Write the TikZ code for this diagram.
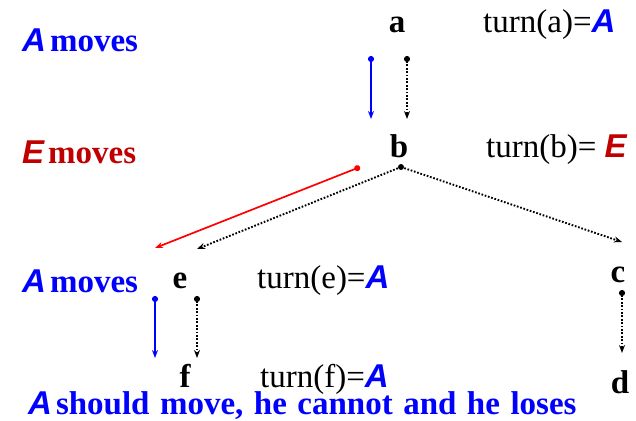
\documentclass[tikz,border=0pt]{standalone}
\usepackage{fontspec}
\setmainfont{Liberation Serif}
\setsansfont{Liberation Sans}
\usetikzlibrary{arrows.meta,calc}
\definecolor{pblue}{HTML}{0000FF}
\definecolor{pdred}{HTML}{C00000}
\definecolor{pred}{HTML}{FF0000}
\newcommand\plA{{\sffamily\bfseries\itshape\color{pblue}A}}
\newcommand\plE{{\sffamily\bfseries\itshape\color{pdred}E}}
\tikzset{
  txt/.style={font=\fontsize{33}{36}\selectfont, inner sep=0pt, anchor=base west},
  posn/.style={font=\fontsize{33}{36}\selectfont\bfseries, inner sep=0pt, anchor=base},
  who/.style={font=\fontsize{33}{36}\selectfont\bfseries, text=#1, inner sep=0pt, anchor=base west},
  move/.style={{Circle[length=6pt]}-{Stealth[length=8pt,width=6pt]}, line width=1.7pt, draw=#1},
  dline/.style={-{Stealth[length=8pt,width=6pt]}, line width=1.9pt,
                dash pattern=on 1.7pt off 1.7pt, draw=black},
  dmove/.style={dline, {Circle[length=6pt]}-{Stealth[length=8pt,width=6pt]}},
}
\begin{document}
\begin{tikzpicture}[x=1pt, y=-1pt]
  \useasboundingbox (0,0) rectangle (636,420);

  % --- positions
  \node[posn] (a) at (397,33) {a};
  \node[posn] (b) at (399,157) {b};
  \node[posn] (e) at (180,288) {e};
  \node[posn] (f) at (185,387) {f};
  \node[posn] (c) at (618,282) {c};
  \node[posn] (d) at (620,393) {d};
  \coordinate (bdot) at ($(b.base)+(2,10)$);

  % --- whose turn
  \node[who=pblue] (mvA) at (22,52) {\plA\kern4pt moves};
  \node[who=pdred] (mvE) at (22,163) {\plE\kern4pt moves};
  \node[who=pblue] (mvA2) at (22,292) {\plA\kern4pt moves};
  \node[txt] (ta) at (483,33) {turn(a)=\plA};
  \node[txt] (tb) at (486,157) {turn(b)= \plE};
  \node[txt] (te) at (257,288) {turn(e)=\plA};
  \node[txt] (tf) at (260,387) {turn(f)=\plA};
  \node[who=pblue] (lose) at (28,414)
    {\spaceskip=10.5pt\plA\kern4pt should move, he cannot and he loses};

  % --- moves
  \draw[move=pblue] ($(a.base)+(-26,23)$) -- ($(b.base)+(-28,-38)$);
  \draw[dmove] ($(a.base)+(10,23)$) -- ($(b.base)+(8,-38)$);
  \draw[move=pred] ($(b.base)+(-39,10)$) -- ($(e.base)+(-25,-40)$);
  \fill (bdot) circle (3pt);
  \draw[dline] (bdot) -- ($(e.base)+(17,-39)$);
  \draw[dline] (bdot) -- ($(c.base)+(4,-40)$);
  \draw[move=pblue] ($(e.base)+(-25,8)$) -- ($(f.base)+(-30,-29)$);
  \draw[dmove] ($(e.base)+(17,8)$) -- ($(f.base)+(12,-29)$);
  \draw[dmove] ($(c.base)+(4,8)$) -- ($(d.base)+(2,-40)$);
\end{tikzpicture}
\end{document}
